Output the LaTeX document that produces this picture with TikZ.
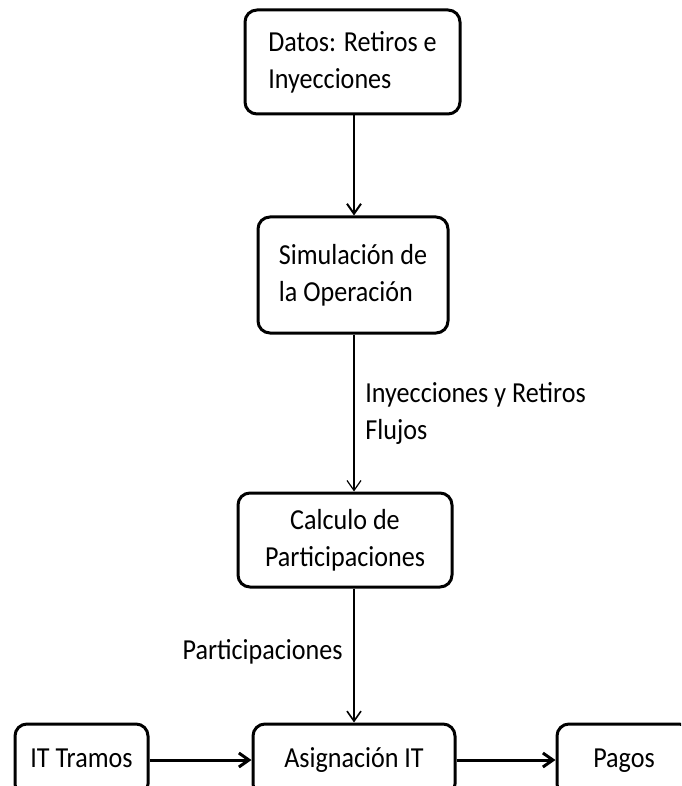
\documentclass[tikz,border=0pt]{standalone}
\usepackage{fontspec}
\setmainfont[FakeStretch=0.9]{Carlito}
\usetikzlibrary{arrows.meta,positioning}
\tikzstyle{bloque}=[draw,line width=1.5pt,rounded corners=6pt,inner sep=0pt,align=center]
\tikzstyle{fila}=[bloque,minimum height=36pt,text height=10pt,text depth=3pt]
\tikzstyle{etiqueta}=[inner sep=0pt,align=left]

\begin{document}
\begin{tikzpicture}[x=0.5pt,y=-0.5pt,>={Straight Barb[length=5pt,width=7pt]},
  every node/.style={font=\fontsize{14.5}{18.5}\selectfont}]

  % marco de la figura
  \useasboundingbox (0,0) rectangle (681,786);
  \clip (0,0) rectangle (681,786);

  % bloques
  \node[bloque,minimum width=107.5pt,minimum height=52pt,align=left] (datos) at (352.5,62) {Datos: Retiros e\\Inyecciones};
  \node[bloque,minimum width=95pt,minimum height=58pt,align=left] (simulacion) at (353,275) {Simulación de\\la Operación};
  \node[bloque,minimum width=107pt,minimum height=47pt] (calculo) at (345,540) {Calculo de\\Participaciones};

  % fila inferior
  \node[fila,minimum width=101pt] (asignacion) at (354,760) {Asignación IT};
  \node[fila,minimum width=66.5pt] (tramos) at (81.5,760) {IT Tramos};
  \node[fila,minimum width=67pt] (pagos) at (624,760) {Pagos};

  % flechas
  \draw[->,line width=1pt] (datos.south -| 354,0) -- (simulacion.north -| 354,0);
  \draw[->,line width=0.6pt] (simulacion.south -| 354,0) -- (calculo.north -| 354,0);
  \draw[->,line width=0.8pt] (calculo.south -| 354,0) -- (asignacion.north -| 354,0);
  \draw[->,line width=1.5pt] (tramos) -- (asignacion);
  \draw[->,line width=1.5pt] (asignacion) -- (pagos);

  % etiquetas
  \node[etiqueta,anchor=west] (flujos) at (365,413) {Inyecciones y Retiros\\Flujos};
  \node[etiqueta,anchor=east] (part) at (343,652) {Participaciones};

\end{tikzpicture}
\end{document}
